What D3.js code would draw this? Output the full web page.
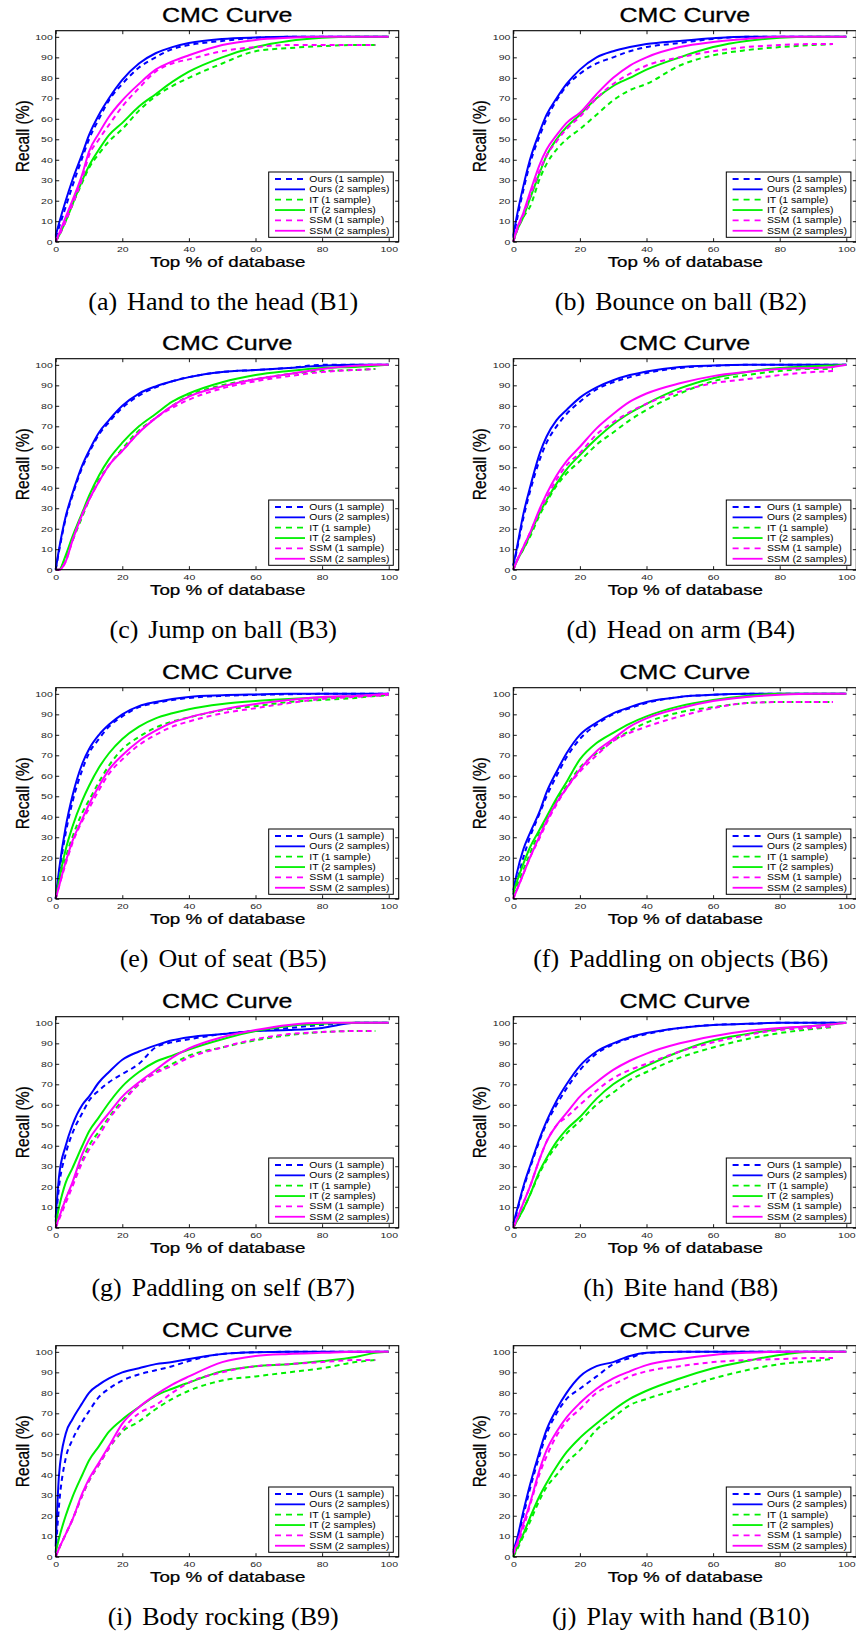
<!DOCTYPE html>
<meta charset="utf-8">
<head>
<style>
body { margin: 0; background: #fff; }
svg { display: block; }
.ax text { font-family: "Liberation Sans", Arial, sans-serif; fill: #222; }
.lbl { font-family: "Liberation Sans", Arial, sans-serif; fill: #000; }
.cap { font-family: "Liberation Serif", "Times New Roman", serif; fill: #000; }
</style>
<script src="https://d3js.org/d3.v7.min.js"></script>
</head>
<body>
<svg id="chart" width="856" height="1634"></svg>
<script>

// x grid (Top % of database) shared by every curve
var xs = [0, 1, 3, 5, 8, 10, 13, 16, 20, 25, 30, 35, 40, 50, 60, 70, 80, 90, 96, 100];

var seriesNames = ["Ours (1 sample)", "Ours (2 samples)", "IT (1 sample)", "IT (2 samples)", "SSM (1 sample)", "SSM (2 samples)"];

var captionTags = ["(a)", "(b)", "(c)", "(d)", "(e)", "(f)", "(g)", "(h)", "(i)", "(j)"];
var captionTexts = ["Hand to the head (B1)", "Bounce on ball (B2)", "Jump on ball (B3)", "Head on arm (B4)",
  "Out of seat (B5)", "Paddling on objects (B6)", "Paddling on self (B7)", "Bite hand (B8)",
  "Body rocking (B9)", "Play with hand (B10)"];

var xTicks = [0, 20, 40, 60, 80, 100];
var yTicks = [0, 10, 20, 30, 40, 50, 60, 70, 80, 90, 100];

// recall (%) per series, rows in seriesNames order; null = curve stopped
var B1 = [
  [2, 7, 17, 27, 41, 50, 60, 69, 77, 85, 90, 94, 96, 98, 99.5, 100, 100, 100, 100, 100],
  [3, 9, 20, 30, 43, 52, 62, 70, 79, 87, 92, 95, 97, 99, 99.7, 100, 100, 100, 100, 100],
  [0, 3, 10, 18, 29, 36, 43, 49, 55, 64, 71, 76, 80, 87, 93, 94.5, 95.5, 96, 96, null],
  [0, 3, 10, 18, 30, 37, 45, 52, 58, 66, 72, 78, 83, 90, 95, 98, 99.5, 100, 100, 100],
  [0, 3, 10, 18, 31, 42, 50, 57, 66, 75, 83, 87, 89, 93, 95, 96, 96, 96, 96, null],
  [0, 4, 12, 20, 33, 44, 53, 61, 69, 77, 84, 88, 91, 96, 98.5, 99.5, 100, 100, 100, 100]
];
var B2 = [
  [2, 10, 25, 38, 52, 60, 69, 76, 82, 87, 90, 93, 95, 97, 99, 100, 100, 100, 100, 100],
  [3, 12, 27, 40, 54, 62, 70, 77, 84, 90, 93, 95, 96.5, 98, 99.3, 100, 100, 100, 100, 100],
  [0, 5, 12, 17, 31, 38, 45, 50, 55, 62, 69, 74, 77, 86, 91, 93.5, 95, 96, 96.5, null],
  [0, 5, 12, 21, 34, 42, 50, 56, 62, 70, 76, 80, 84, 90, 95, 98, 99.5, 100, 100, 100],
  [0, 5, 13, 22, 35, 42, 49, 55, 61, 70, 77, 82, 86, 90, 93, 95, 96, 96.5, 96.5, null],
  [0, 6, 14, 24, 38, 45, 52, 58, 63, 72, 80, 86, 90, 95, 97.5, 99, 100, 100, 100, 100]
];
var B3 = [
  [0, 9, 25, 36, 50, 57, 66, 72, 79, 85, 89, 92, 94, 96.5, 97.5, 98.5, 100, 100, 100, 100],
  [0, 10, 26, 37, 51, 58, 67, 73, 80, 86, 89.5, 92, 94, 96.5, 97.5, 98.5, 99.5, 100, 100, 100],
  [0, 0, 6, 14, 26, 34, 44, 51, 59, 68, 74, 80, 85, 90, 93, 95.5, 97, 97.5, 98, null],
  [0, 0, 7, 16, 28, 36, 46, 54, 62, 70, 76, 82, 86, 91.5, 95, 97, 98.5, 99, 99.5, 100],
  [0, 0, 4, 14, 27, 34, 43, 51, 58, 67, 74, 79, 83, 88.5, 92, 94.5, 96.5, 97.5, 98, null],
  [0, 0, 4, 14, 27, 34, 43, 51, 58, 67, 74, 80, 84.5, 89.5, 93, 95.5, 98, 99.5, 100, 100]
];
var B4 = [
  [2, 9, 25, 38, 54, 62, 70, 76, 82, 88, 91.5, 94, 96, 98.5, 99.5, 100, 100, 100, 100, 100],
  [2, 10, 27, 40, 57, 65, 73, 78, 84, 89, 92.5, 95, 96.8, 99, 99.7, 100, 100, 100, 100, 100],
  [0, 4, 10, 16, 27, 33, 41, 47, 53, 61, 67, 73, 78, 86, 92, 95, 97, 98, 98, null],
  [0, 4, 10, 17, 28, 34, 42, 49, 56, 64, 71, 76.5, 81, 88.5, 93.5, 96.5, 98.5, 99.3, 99.7, 100],
  [0, 4, 11, 18, 29, 35, 44, 51, 57, 66, 72, 77, 81, 87, 91, 93, 95, 96.5, 97, null],
  [0, 4, 11, 18, 30, 37, 46, 53, 60, 69, 76, 82, 86, 91, 94.5, 96.5, 98, 98.5, 99, 100]
];
var B5 = [
  [0, 12, 32, 47, 63, 71, 78, 84, 89, 93.5, 95.5, 97, 98, 99, 99.5, 99.8, 100, 100, 100, 100],
  [0, 14, 35, 50, 66, 73, 80, 85, 90, 94, 96, 97.5, 98.5, 99.3, 99.7, 100, 100, 100, 100, 100],
  [0, 7, 20, 30, 42, 48, 57, 65, 73, 79, 83.5, 86.5, 88.5, 92, 94, 96, 97, 98, 99, 99.3],
  [0, 9, 24, 35, 48, 55, 64, 71, 78, 84, 88, 90.5, 92.5, 95, 96.5, 97.5, 98.2, 98.8, 99.2, 99.5],
  [0, 6, 17, 27, 38, 44, 53, 61, 68, 75, 80, 84, 86.5, 90.5, 93, 95.5, 97.5, 98.5, 99, 99.5],
  [0, 6, 18, 28, 39, 46, 55, 63, 70, 77, 82, 86, 88.5, 92.3, 95, 97, 98.5, 99, 99.5, 100]
];
var B6 = [
  [2, 8, 20, 30, 42, 50, 60, 69, 78, 85, 90, 93, 95.5, 98.5, 99.5, 100, 100, 100, 100, 100],
  [4, 12, 24, 32, 43, 52, 62, 71, 80, 86, 90.5, 93.5, 96, 98.5, 99.5, 100, 100, 100, 100, 100],
  [2, 6, 14, 22, 33, 39, 48, 55, 64, 71, 77, 82, 86, 91, 93.5, 95.5, 96, 96, 96, null],
  [3, 8, 17, 25, 34, 40, 49, 57, 68, 76, 81, 85.5, 89, 94, 97, 99, 100, 100, 100, 100],
  [0, 4, 12, 20, 30, 37, 46, 54, 62, 70, 77, 81, 84, 89, 93, 95.5, 96, 96, 96, null],
  [0, 4, 12, 20, 31, 38, 47, 54, 63, 72, 78, 84, 88, 93, 96.5, 98.5, 99.5, 100, 100, 100]
];
var B7 = [
  [3, 20, 36, 46, 56, 62, 67, 71, 75, 80, 88, 90.5, 92, 94.5, 96, 97.5, 99, 100, 100, 100],
  [5, 25, 40, 50, 60, 64, 71, 76, 82, 86, 89, 91.5, 93, 94.5, 96, 96.5, 97.5, 100, 100, 100],
  [0, 5, 14, 21, 33, 40, 47, 54, 62, 70, 76, 80, 84, 88, 91.5, 94, 95.5, 96, 96, null],
  [2, 10, 22, 29, 40, 47, 54, 61, 69, 76, 81, 84, 87, 92, 96, 98.5, 99.5, 100, 100, 100],
  [0, 4, 12, 20, 32, 38, 45, 53, 61, 70, 75.5, 79, 83, 88, 92, 94.5, 95.5, 96, 96, null],
  [0, 5, 14, 22, 36, 43, 50, 56, 64, 71, 77, 83, 87.5, 93, 96.5, 99, 100, 100, 100, 100]
];
var B8 = [
  [1, 7, 19, 29, 43, 51, 60, 68, 77, 85, 89.5, 92.5, 94.5, 97.5, 99, 99.5, 100, 100, 100, 100],
  [2, 8, 20, 30, 44, 52, 62, 70, 79, 86, 90, 93, 95, 97.5, 99, 99.5, 100, 100, 100, 100],
  [0, 3, 9, 16, 27, 33, 40, 46, 52, 60, 66, 72, 76, 83, 88, 92, 95, 97, 98, null],
  [0, 3, 9, 16, 28, 34, 42, 48, 54, 63, 70, 75, 79, 86, 91.5, 94.5, 97, 98.5, 99.3, 100],
  [0, 4, 12, 20, 34, 42, 50, 54, 60, 67, 73, 77, 80, 86, 90.5, 94, 96.5, 97.5, 98.3, null],
  [0, 4, 12, 20, 34, 42, 50, 56, 64, 71, 77, 81.5, 85, 90, 93.5, 96, 97.5, 98.5, 99.3, 100]
];
var B9 = [
  [2, 25, 48, 57, 66, 71, 78, 82, 86, 89, 91, 93, 95.5, 99, 99.8, 100, 100, 100, 100, 100],
  [5, 40, 60, 67, 75, 80, 84, 87, 90, 92, 94, 95, 96.5, 99, 99.8, 100, 100, 100, 100, 100],
  [0, 4, 11, 18, 30, 37, 45, 53, 61, 66, 72, 77, 81, 86, 88, 90, 92, 95, 96, null],
  [2, 9, 20, 29, 40, 47, 54, 61, 67, 73, 78.5, 82, 85, 90.5, 93, 94, 95.5, 97.5, 99.5, 100],
  [0, 4, 11, 18, 30, 37, 45, 53, 62, 70, 74, 80, 85, 90, 93, 94, 95, 96, 96, null],
  [0, 4, 11, 18, 31, 38, 46, 54, 65, 73, 79, 84, 88, 95, 98, 99, 99.5, 100, 100, 100]
];
var B10 = [
  [2, 7, 20, 33, 50, 60, 70, 77, 82, 88, 94, 97, 99.5, 100, 100, 100, 100, 100, 100, 100],
  [3, 8, 22, 35, 52, 62, 72, 80, 88, 93, 95, 98, 99.5, 100, 100, 100, 100, 100, 100, 100],
  [0, 3, 10, 17, 28, 34, 40, 46, 52, 62, 68, 74, 77, 82, 87, 91, 94, 95.5, 96.5, null],
  [0, 4, 11, 19, 30, 36, 44, 51, 58, 65, 71.5, 77, 81, 87, 92, 95.5, 98.5, 100, 100, 100],
  [1, 5, 14, 25, 41, 49, 59, 66, 72, 80, 84, 88, 90.5, 93, 95, 96, 96.5, 97, 97, null],
  [2, 6, 16, 26, 43, 52, 61, 68, 75, 82, 87, 90.5, 93.5, 96.5, 98.5, 99.5, 100, 100, 100, 100]
];

var panels = [B1, B2, B3, B4, B5, B6, B7, B8, B9, B10];

// layout
var colX0 = [55.7, 513.3];
var rowY0 = [241.7, 569.7, 898.7, 1227.7, 1556.7];
var pw = 343, ph = 211;

var colors = ["#0000ff", "#0000ff", "#00f000", "#00f000", "#ff00ff", "#ff00ff"];
var dashed = [true, false, true, false, true, false];

var svg = d3.select("#chart");

var x = d3.scaleLinear().domain([0, 103]).range([0, pw]);
var y = d3.scaleLinear().domain([0, 103]).range([ph, 0]);

var line = d3.line()
    .defined(function(d) { return d[1] != null; })
    .x(function(d) { return x(d[0]); })
    .y(function(d) { return y(d[1]); })
    .curve(d3.curveMonotoneX);

function cleanAxis(g) {
  g.select(".domain").remove();
  g.attr("font-family", null).attr("font-size", null);
  g.selectAll("line").attr("stroke", "#000").attr("stroke-width", 0.9);
}

panels.forEach(function(data, i) {
  var col = i % 2, row = Math.floor(i / 2);
  var g = svg.append("g")
      .attr("transform", "translate(" + colX0[col] + "," + (rowY0[row] - ph) + ")");

  // curves
  data.forEach(function(vals, s) {
    g.append("path")
        .datum(xs.map(function(xv, k) { return [xv, vals[k]]; }))
        .attr("fill", "none")
        .attr("stroke", colors[s])
        .attr("stroke-width", 2)
        .attr("stroke-dasharray", dashed[s] ? "5,4" : null)
        .attr("d", line);
  });

  // axes (ticks inside, MATLAB box)
  var gb = g.append("g").attr("class", "ax")
      .attr("transform", "translate(0," + ph + ")")
      .call(d3.axisBottom(x).tickValues(xTicks).tickSize(-3.5));
  cleanAxis(gb);
  gb.selectAll("text")
      .attr("y", 10.5).attr("dy", null)
      .attr("font-size", 7.5)
      .attr("transform", "scale(1.4,1)");

  var gl = g.append("g").attr("class", "ax")
      .call(d3.axisLeft(y).tickValues(yTicks).tickSize(-3.5));
  cleanAxis(gl);
  gl.selectAll("text")
      .attr("x", -3 / 1.4).attr("dy", "0.35em")
      .attr("font-size", 7.5)
      .attr("transform", "scale(1.4,1)");

  var gt = g.append("g").attr("class", "ax")
      .call(d3.axisTop(x).tickValues(xTicks).tickSize(-3.5).tickFormat(""));
  cleanAxis(gt);
  var gr = g.append("g").attr("class", "ax")
      .attr("transform", "translate(" + pw + ",0)")
      .call(d3.axisRight(y).tickValues(yTicks).tickSize(-3.5).tickFormat(""));
  cleanAxis(gr);

  g.append("rect")
      .attr("width", pw).attr("height", ph)
      .attr("fill", "none").attr("stroke", "#000").attr("stroke-width", 1.1);

  // title and axis labels
  g.append("text").attr("class", "lbl")
      .attr("text-anchor", "middle").attr("font-size", 20)
      .attr("stroke", "#000").attr("stroke-width", 0.3)
      .attr("transform", "translate(" + (pw / 2) + "," + (y(100) - 15) + ") scale(1.25,1)")
      .text("CMC Curve");

  g.append("text").attr("class", "lbl")
      .attr("text-anchor", "middle").attr("font-size", 14)
      .attr("stroke", "#000").attr("stroke-width", 0.25)
      .attr("transform", "translate(" + (pw / 2 + 0.5) + "," + (ph + 25) + ") scale(1.34,1)")
      .text("Top % of database");

  g.append("text").attr("class", "lbl")
      .attr("text-anchor", "middle").attr("font-size", 18)
      .attr("stroke", "#000").attr("stroke-width", 0.25)
      .attr("textLength", 72).attr("lengthAdjust", "spacingAndGlyphs")
      .attr("transform", "translate(-27.2," + (y(50) - 3) + ") rotate(-90)")
      .text("Recall (%)");

  // legend
  var lg = g.append("g").attr("transform", "translate(213," + (ph - 69.7) + ")");
  lg.append("rect")
      .attr("width", 124.6).attr("height", 65.3)
      .attr("fill", "#fff").attr("stroke", "#000").attr("stroke-width", 1);
  seriesNames.forEach(function(name, s) {
    var ly = 7 + s * 10.35;
    lg.append("line")
        .attr("x1", 6.3).attr("x2", 36.3).attr("y1", ly).attr("y2", ly)
        .attr("stroke", colors[s]).attr("stroke-width", 1.8)
        .attr("stroke-dasharray", dashed[s] ? "6,5" : null);
    lg.append("text").attr("class", "lbl")
        .attr("font-size", 8.5).attr("dy", "0.35em")
        .attr("transform", "translate(40.6," + ly + ") scale(1.23,1)")
        .text(name);
  });

  // caption
  var cap = g.append("text").attr("class", "cap")
      .attr("text-anchor", "middle").attr("font-size", 26)
      .attr("x", pw / 2 - 4).attr("y", ph + 68.3);
  cap.append("tspan").text(captionTags[i]);
  cap.append("tspan").attr("dx", 10).text(captionTexts[i]);
});

</script>
</body>
